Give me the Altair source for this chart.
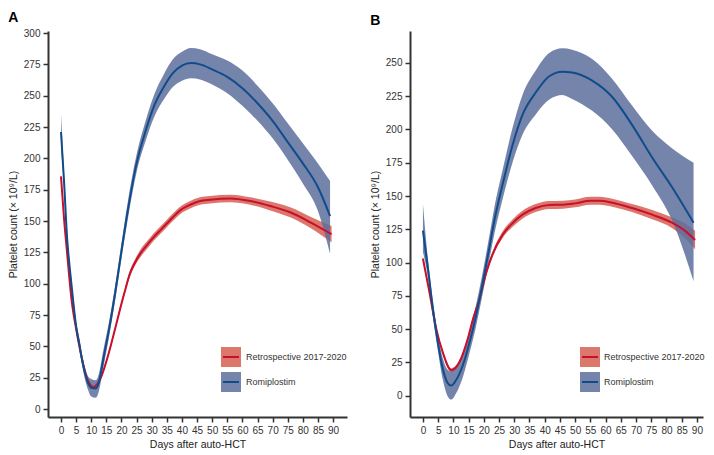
import altair as alt
import pandas as pd

FONT = "Liberation Sans"

X_TICKS = list(range(0, 95, 5))
A_Y_TICKS = list(range(0, 325, 25))
B_Y_TICKS = list(range(0, 275, 25))
LABELS = ["Retrospective 2017-2020", "Romiplostim"]

# Panel A - Retrospective (red)
A_RED_DAY = [0, 1, 2, 3.5, 5, 6.5, 8, 9.5, 10.7, 12, 13.5, 15, 16.5, 18, 19.5, 21, 22.8, 24.5, 26.2, 28.5,
             30.6, 33, 35, 37, 39.4, 42.7, 46, 49.3, 56, 62.6, 69.2, 75.8, 82.5, 89.5]
A_RED_MID = [185.6, 152, 125, 87, 64, 45, 29, 20, 17.5, 20, 27, 38, 51, 65, 79.5, 93, 108, 117, 124, 131,
             137, 143, 148, 153, 158.5, 163, 166, 167, 168, 166, 162, 157, 149, 139.5]
A_RED_LO = [184.6, 151, 124, 86, 63, 44, 27.5, 18.5, 16, 18.5, 25.5, 36.5, 49.5, 63.5, 77.5, 91, 105.5, 114.5, 121, 128,
            134, 140, 145, 150, 155.5, 160, 163, 164, 165, 163, 158.5, 153, 144.5, 133]
A_RED_HI = [186.6, 153, 126, 88, 65, 46, 30.5, 21.5, 19, 21.5, 28.5, 39.5, 52.5, 66.5, 81.5, 95, 110.5, 119.5, 127, 134,
            140, 146, 151, 156, 161.5, 166, 169, 170, 171, 169, 165.5, 161, 153.5, 146]

# Panel A - Romiplostim (blue)
A_BLUE_DAY = [0, 1, 2, 3, 4, 5, 6, 7, 8, 9, 10, 11.5, 12.5, 14, 16, 18, 20, 22, 25, 28, 31, 34, 37, 40,
              43, 46, 50, 55, 60, 65, 70, 75, 80, 85, 89]
A_BLUE_MID = [221, 182, 137, 110, 87, 66, 53, 39, 28, 20.5, 17, 16.5, 21, 40, 65, 94, 126, 157, 196, 222, 243, 257, 268, 274,
              276, 275, 271, 265, 256, 244, 230, 213, 196, 177, 154]
A_BLUE_LO = [209, 175, 132, 106, 83, 62, 49, 35, 23, 15, 10, 9, 14, 33, 59, 88, 120, 150, 189, 214, 234, 247, 257, 262,
             264, 263, 259, 252, 242, 230, 216, 199, 180, 158, 124]
A_BLUE_HI = [235, 189, 142, 114, 91, 70, 57, 43, 33, 26, 24, 23, 28, 47, 71, 100, 132, 164, 203, 230, 252, 267, 279, 285,
             288, 287, 283, 278, 270, 258, 244, 228, 212, 196, 182]

# Panel B - Retrospective (red)
B_RED_DAY = [0, 2.2, 4.4, 6.5, 9.3, 12, 14.7, 16.4, 18.5, 20.7, 22.9, 26.2, 29.5, 32.7, 37, 41.5, 46, 50, 55, 58,
             62.2, 68.7, 75.3, 81.8, 86, 89.4]
B_RED_MID = [103, 77, 50, 32.7, 19.2, 25.3, 42.5, 57.3, 72, 91.7, 106.4, 121, 129.8, 136, 141, 143.3, 143.5, 144.5, 146.5,
             146.5, 145, 141, 136, 130, 124, 117]
B_RED_LO = [101.5, 75.5, 48.5, 31.2, 17.7, 23.8, 41, 55.8, 70, 89.7, 104.4, 118.5, 127, 133, 138, 140.3, 140.5, 141.5,
            143.5, 143.5, 142, 138, 132.5, 126, 118.5, 110]
B_RED_HI = [104.5, 78.5, 51.5, 34.2, 20.7, 26.8, 44, 58.8, 74, 93.7, 108.4, 123.5, 132.6, 139, 144, 146.3, 146.5, 147.5,
            149.5, 149.5, 148, 144, 139.5, 134, 129.5, 124]

# Panel B - Romiplostim (blue)
B_BLUE_DAY = [0, 1.6, 3.3, 4.9, 6.5, 8.2, 9.3, 10.9, 13.1, 15.3, 17.4, 19.6, 21.8, 23.5, 26.2, 29.5, 32.7, 37.1, 41.5,
              45.8, 49, 55.6, 62.2, 68.7, 75.3, 81.8, 88.9]
B_BLUE_MID = [124, 96.6, 64.7, 40, 20.4, 9.3, 7.6, 11.8, 22.9, 40, 59.7, 84.3, 111, 132, 159, 188.8, 211, 228, 240,
              243.4, 242.8, 236.7, 224.4, 203.5, 179, 156.8, 130]
B_BLUE_LO = [108, 89.6, 58.7, 34, 12.4, -0.7, -2.9, 1.8, 13.9, 32, 51.7, 76.3, 102, 122, 148, 175.8, 196, 211.5, 222.5,
             226, 223, 214, 200, 180, 158, 132, 86]
B_BLUE_HI = [144, 103.6, 70.7, 46, 28.4, 19.3, 18.1, 21.8, 31.9, 48, 67.7, 92.3, 120, 142, 170, 201.8, 226, 244.5, 257.5,
             261, 260, 253, 238, 218, 199, 186, 175]

RED_LINE = "#c8102e"
RED_BAND = "#d65f52"
BLUE_LINE = "#114c8a"
BLUE_BAND = "#5d6e9c"
BAND_OPACITY = 0.85

Y_TITLE = "Platelet count (× 10⁹/L)"
X_TITLE = "Days after auto-HCT"


def df(day, mid, lo, hi):
    return pd.DataFrame({"day": day, "mid": mid, "lo": lo, "hi": hi})


def panel(letter, red, blue, xdom, ydom, yticks, w, h, lx, tx):
    xs = alt.Scale(domain=xdom, nice=False, zero=False)
    ys = alt.Scale(domain=ydom, nice=False, zero=False)
    xax = alt.Axis(values=X_TICKS, title=X_TITLE, labelPadding=3, titlePadding=4)
    yax = alt.Axis(values=yticks, title=Y_TITLE, labelPadding=3, titlePadding=5)

    def band(d, color):
        return alt.Chart(d).mark_area(color=color, opacity=BAND_OPACITY, interpolate="monotone").encode(
            x=alt.X("day:Q", scale=xs, axis=xax),
            y=alt.Y("lo:Q", scale=ys, axis=yax),
            y2="hi:Q",
        )

    def line(d, color):
        return alt.Chart(d).mark_line(color=color, strokeWidth=2, interpolate="monotone").encode(
            x=alt.X("day:Q", scale=xs, axis=xax),
            y=alt.Y("mid:Q", scale=ys, axis=yax),
        )

    layers = [band(red, RED_BAND), band(blue, BLUE_BAND), line(red, RED_LINE), line(blue, BLUE_LINE)]

    y0s = [h - 70, h - 45]
    fills = [RED_BAND, BLUE_BAND]
    strokes = [RED_LINE, BLUE_LINE]
    for lab, y0, f, s in zip(LABELS, y0s, fills, strokes):
        d = pd.DataFrame({"label": [lab]})
        layers.append(alt.Chart(d).mark_rect(color=f, opacity=BAND_OPACITY).encode(
            x=alt.value(lx), x2=alt.value(lx + 20), y=alt.value(y0), y2=alt.value(y0 + 20)))
        layers.append(alt.Chart(d).mark_rule(color=s, strokeWidth=2).encode(
            x=alt.value(lx + 2), x2=alt.value(lx + 18), y=alt.value(y0 + 10)))
        layers.append(alt.Chart(d).mark_text(align="left", baseline="middle", font=FONT, fontSize=9,
                                              color="#333333").encode(
            x=alt.value(lx + tx), y=alt.value(y0 + 10), text="label:N"))

    return alt.layer(*layers).properties(
        width=w, height=h,
        title=alt.TitleParams(letter, anchor="start", font=FONT, fontSize=14, fontWeight="bold",
                              color="#000000", offset=3),
    )


pA = panel("A", df(A_RED_DAY, A_RED_MID, A_RED_LO, A_RED_HI), df(A_BLUE_DAY, A_BLUE_MID, A_BLUE_LO, A_BLUE_HI),
           [-4.3, 94.6], [-6.3, 301.6], A_Y_TICKS, 299, 386, 173, 25)
pB = panel("B", df(B_RED_DAY, B_RED_MID, B_RED_LO, B_RED_HI), df(B_BLUE_DAY, B_BLUE_MID, B_BLUE_LO, B_BLUE_HI),
           [-4.25, 92.0], [-16, 274], B_Y_TICKS, 293, 386, 170, 24)

chart = alt.hconcat(pA, pB, spacing=23).configure(
    padding={"left": 0, "top": 3, "right": 0, "bottom": 0}
).configure_view(stroke=None).configure_axis(
    grid=False,
    domainColor="#333333", domainWidth=2,
    tickColor="#333333", tickWidth=1.5, tickSize=5,
    labelFont=FONT, labelFontSize=10, labelColor="#333333",
    titleFont=FONT, titleFontSize=10.5, titleFontWeight="normal", titleColor="#222222",
)

chart.save("out.html", embed_options={"renderer": "svg", "actions": False})
